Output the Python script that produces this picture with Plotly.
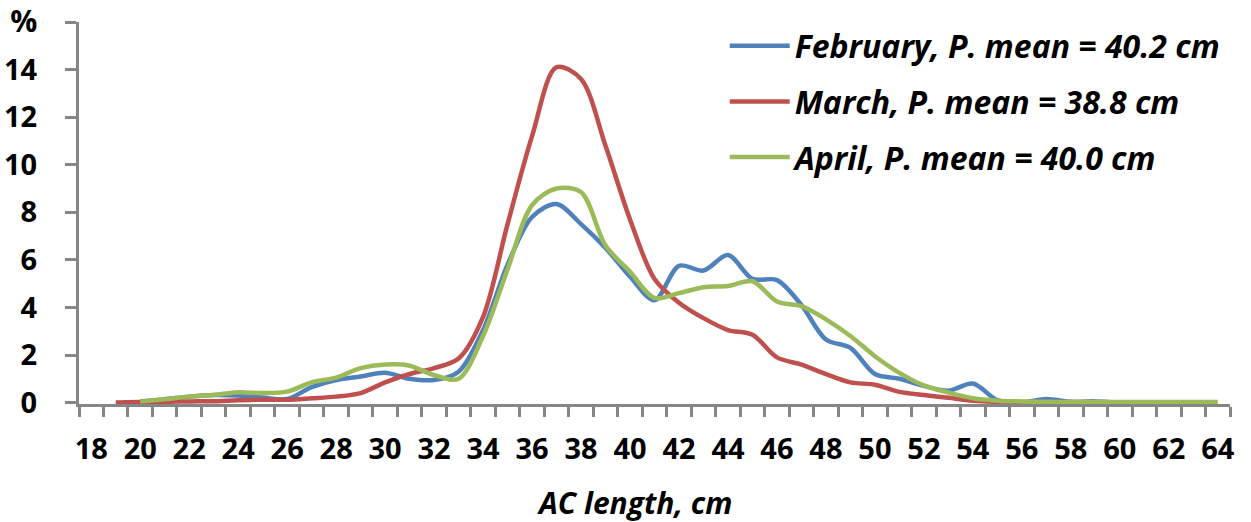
import plotly.graph_objects as go

# AC length categories (cm)
lengths = list(range(18, 65))
tick_labels = [str(v) for v in lengths if v % 2 == 0]

# February series, lengths 20..60 (%)
feb_start = 20
feb = [0.05, 0.14, 0.25, 0.32, 0.30, 0.21, 0.15, 0.65, 0.95, 1.10, 1.25,
       1.00, 0.95, 1.30, 3.05, 5.80, 7.80, 8.35, 7.50, 6.50, 5.30,
       4.30, 5.75, 5.55, 6.20, 5.20, 5.15, 4.10, 2.65, 2.30, 1.20,
       1.00, 0.70, 0.50, 0.80, 0.10, 0.00, 0.15, 0.03, 0.05, 0.00]

# March series, lengths 19..59 (%)
mar_start = 19
mar = [0.00, 0.02, 0.03, 0.05, 0.06, 0.10, 0.12, 0.12, 0.18, 0.25, 0.40,
       0.85, 1.20, 1.45, 1.85, 3.60, 7.50, 11.2, 14.1, 13.6, 10.8,
       7.70, 5.20, 4.20, 3.55, 3.05, 2.85, 1.90, 1.60, 1.20, 0.85,
       0.75, 0.45, 0.32, 0.20, 0.08, 0.03, 0.02, 0.02, 0.02, 0.02]

# April series, lengths 20..64 (%)
apr_start = 20
apr = [0.04, 0.14, 0.25, 0.32, 0.43, 0.40, 0.46, 0.85, 1.05, 1.45, 1.60,
       1.55, 1.15, 1.00, 2.80, 5.60, 8.30, 9.00, 8.85, 6.60, 5.50,
       4.40, 4.60, 4.85, 4.90, 5.10, 4.25, 4.05, 3.50, 2.80, 1.95,
       1.25, 0.72, 0.42, 0.18, 0.08, 0.05, 0.03, 0.02, 0.02, 0.02,
       0.02, 0.02, 0.02, 0.02]

names = ["February, P. mean = 40.2 cm", "March, P. mean = 38.8 cm", "April, P. mean = 40.0 cm"]
colors = ["#4F81BD", "#C0504D", "#9BBB59"]

y_ticks = [0, 2, 4, 6, 8, 10, 12, 14, 16]
y_ticktext = ["0", "2", "4", "6", "8", "10", "12", "14",
              "<span style='font-size:30px'>%</span>"]

FONT = "Open Sans"
GRAY = "#868686"

fig = go.Figure()
for i, (start, vals) in enumerate([(feb_start, feb), (mar_start, mar), (apr_start, apr)]):
    xs = list(range(start, start + len(vals)))
    fig.add_trace(go.Scatter(
        x=xs, y=vals, mode="lines", name="<b><i>" + names[i] + "</i></b>",
        line=dict(color=colors[i], width=4.5, shape="spline", smoothing=0.9),
        legendgroup=str(i), cliponaxis=False,
    ))

boundaries = [v - 0.5 for v in lengths] + [lengths[-1] + 0.5]

fig.update_layout(
    width=1251, height=522,
    margin=dict(l=79, r=21, t=22, b=118),
    plot_bgcolor="white", paper_bgcolor="white",
    font=dict(family=FONT, color="black"),
    showlegend=True,
    legend=dict(
        x=0.561, y=1.009, xanchor="left", yanchor="top",
        font=dict(family=FONT, size=32, color="black"),
        tracegroupgap=11, itemwidth=60, bgcolor="rgba(0,0,0,0)",
    ),
    xaxis=dict(
        range=[17.5, 64.5], automargin=False,
        tickmode="array", tickvals=[int(t) for t in tick_labels], ticktext=tick_labels,
        ticks="", showgrid=False, zeroline=False,
        showline=True, linecolor=GRAY, linewidth=3, layer="below traces",
        tickfont=dict(family=FONT, size=29, color="black", weight="bold"),
        ticklabelstandoff=17,
        minor=dict(tickmode="array", tickvals=boundaries, ticks="outside",
                   ticklen=10, tickwidth=3, tickcolor=GRAY, showgrid=False),
    ),
    yaxis=dict(
        range=[-0.06, 16], automargin=False,
        tickmode="array", tickvals=y_ticks, ticktext=y_ticktext,
        ticks="outside", ticklen=11, tickwidth=3, tickcolor=GRAY,
        showgrid=False, zeroline=False,
        showline=True, linecolor=GRAY, linewidth=3, layer="below traces",
        tickfont=dict(family=FONT, size=29, color="black", weight="bold"),
        ticklabelstandoff=22, ticklabeloverflow="allow",
    ),
    annotations=[dict(
        text="<b><i>AC length, cm</i></b>", xref="paper", yref="paper",
        x=0.4826, y=-0.257, xanchor="center", yanchor="middle", showarrow=False,
        font=dict(family=FONT, size=30, color="black"),
    )],
)

fig.write_html("out.html")
